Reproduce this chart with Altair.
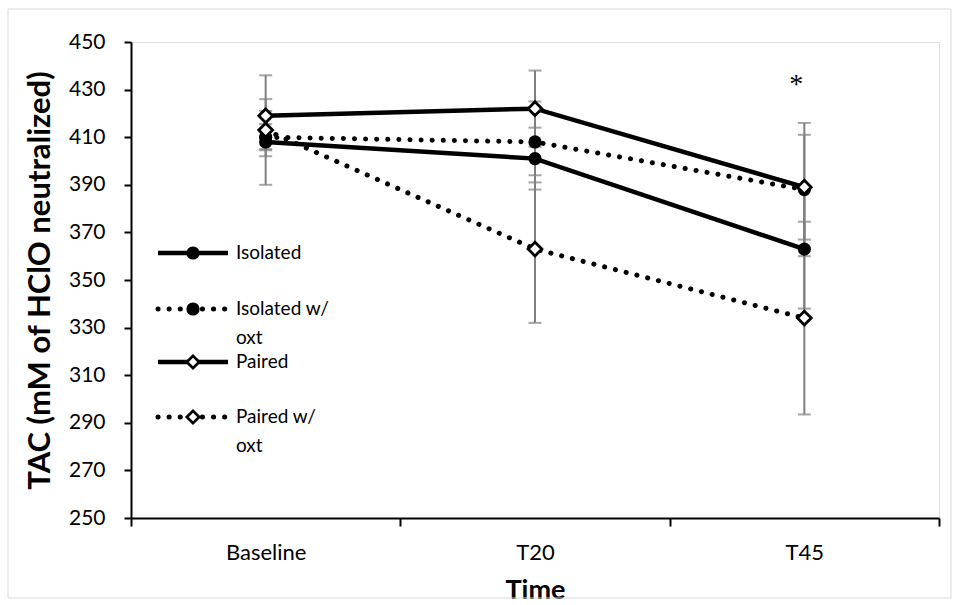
import altair as alt
import pandas as pd

times = ["Baseline", "T20", "T45"]
series_names = ["Isolated", "Isolated w/ oxt", "Paired", "Paired w/ oxt"]
isolated = [408, 401, 363]
isolated_err = [18, 13, 25]
isolated_oxt = [410, 408, 388]
isolated_oxt_err = [5.5, 17, 28]
paired = [419, 422, 389]
paired_err = [17, 16, 22]
paired_oxt = [413, 363, 334]
paired_oxt_err = [8, 31, 40.5]
y_ticks = list(range(250, 451, 20))
star_time = "T45"
star_value = 435

vals = [isolated, isolated_oxt, paired, paired_oxt]
errs = [isolated_err, isolated_oxt_err, paired_err, paired_oxt_err]
rows = []
for s, v, e in zip(series_names, vals, errs):
    for t, vv, ee in zip(times, v, e):
        rows.append({"time": t, "series": s, "value": vv, "lo": vv - ee, "hi": vv + ee})
df = pd.DataFrame(rows)

FONT = "Lato"
GRAY = "#7f7f7f"

xaxis = alt.Axis(title="Time", tickBand="extent", labelAngle=0, grid=False,
                 domainColor="black", domainWidth=2, tickColor="black", tickWidth=2,
                 tickSize=8, labelFontSize=22, labelPadding=16, labelColor="black",
                 labelFont=FONT, titleFont=FONT,
                 titleFontSize=27, titleFontWeight="bold", titleColor="black",
                 titleY=72, titleBaseline="middle")
yaxis = alt.Axis(title="TAC (mM of HClO neutralized)", values=y_ticks, grid=False,
                 domainColor="black", domainWidth=2, tickColor="black", tickWidth=2,
                 tickSize=7, labelFontSize=21, labelPadding=19, labelColor="black",
                 labelFont=FONT, titleFont=FONT,
                 titleFontSize=31, titleFontWeight="bold", titleColor="black",
                 titleX=-91, titleY=238, titleBaseline="middle", titleAngle=270)
yscale = alt.Scale(domain=[250, 450], nice=False, zero=False)

xenc = alt.X("time:N", sort=times,
             scale=alt.Scale(type="band", paddingInner=0, paddingOuter=0), axis=xaxis)


def Y(field):
    return alt.Y(f"{field}:Q", scale=yscale, axis=yaxis)


base = alt.Chart(df)

err_rule = base.mark_rule(color=GRAY, strokeWidth=2).encode(x=xenc, y=Y("lo"), y2="hi:Q")
cap_lo = base.mark_tick(color=GRAY, thickness=2, size=13).encode(x=xenc, y=Y("lo"))
cap_hi = base.mark_tick(color=GRAY, thickness=2, size=13).encode(x=xenc, y=Y("hi"))

solid = base.transform_filter(
    alt.FieldOneOfPredicate(field="series", oneOf=["Isolated", "Paired"])
).mark_line(color="black", strokeWidth=4.5).encode(x=xenc, y=Y("value"), detail="series:N")

dotted = base.transform_filter(
    alt.FieldOneOfPredicate(field="series", oneOf=["Isolated w/ oxt", "Paired w/ oxt"])
).mark_line(color="black", strokeWidth=5, strokeDash=[0.1, 11], strokeCap="round").encode(
    x=xenc, y=Y("value"), detail="series:N")

circles = base.transform_filter(
    alt.FieldOneOfPredicate(field="series", oneOf=["Isolated", "Isolated w/ oxt"])
).mark_point(shape="circle", filled=True, color="black", size=175, opacity=1).encode(
    x=xenc, y=Y("value"))

diamonds = base.transform_filter(
    alt.FieldOneOfPredicate(field="series", oneOf=["Paired", "Paired w/ oxt"])
).mark_point(shape="diamond", filled=True, fill="white", stroke="black", strokeWidth=2.8,
             size=190, opacity=1).encode(x=xenc, y=Y("value"))

star = alt.Chart(pd.DataFrame({"time": [star_time], "value": [star_value]})).mark_text(
    text="*", font="Liberation Serif", fontSize=28, color="black", dx=-8, dy=7, baseline="middle"
).encode(x=xenc, y=Y("value"))

# legend (drawn manually inside the plot)
dummy = pd.DataFrame({"a": [0]})
leg_y = [211, 267, 320, 375]
leg_dotted = [False, True, False, True]
leg_shape = ["circle", "circle", "diamond", "diamond"]
leg_text = [["Isolated"], ["Isolated w/", "oxt"], ["Paired"], ["Paired w/", "oxt"]]
legend_layers = []
for ly, dt, shp, txt in zip(leg_y, leg_dotted, leg_shape, leg_text):
    if dt:
        ln = alt.Chart(dummy).mark_rule(color="black", strokeWidth=5, strokeDash=[0.1, 11],
                                        strokeCap="round")
    else:
        ln = alt.Chart(dummy).mark_rule(color="black", strokeWidth=4.5)
    legend_layers.append(ln.encode(x=alt.value(27), x2=alt.value(97), y=alt.value(ly)))
    if shp == "circle":
        mk = alt.Chart(dummy).mark_point(shape="circle", filled=True, color="black", size=175,
                                         opacity=1)
    else:
        mk = alt.Chart(dummy).mark_point(shape="diamond", filled=True, fill="white",
                                         stroke="black", strokeWidth=2.8, size=150, opacity=1)
    legend_layers.append(mk.encode(x=alt.value(62), y=alt.value(ly)))
    for k, t in enumerate(txt):
        legend_layers.append(
            alt.Chart(dummy).mark_text(text=t, align="left", baseline="middle", fontSize=19,
                                       color="black", font=FONT)
            .encode(x=alt.value(105), y=alt.value(ly + 29 * k))
        )

border = alt.Chart(dummy).mark_rect(fill=None, stroke="#d9d9d9", strokeWidth=1).encode(
    x=alt.value(-123), x2=alt.value(820), y=alt.value(-33), y2=alt.value(556))

chart = alt.layer(
    border, err_rule, cap_lo, cap_hi, solid, dotted, circles, diamonds, star, *legend_layers
).properties(
    width=808, height=476,
    autosize=alt.AutoSizeParams(type="none"),
    padding={"left": 131, "top": 42, "right": 19, "bottom": 87},
).configure_view(stroke=None).configure(font=FONT)

chart.save("out.html", embed_options={"renderer": "svg", "actions": False})
